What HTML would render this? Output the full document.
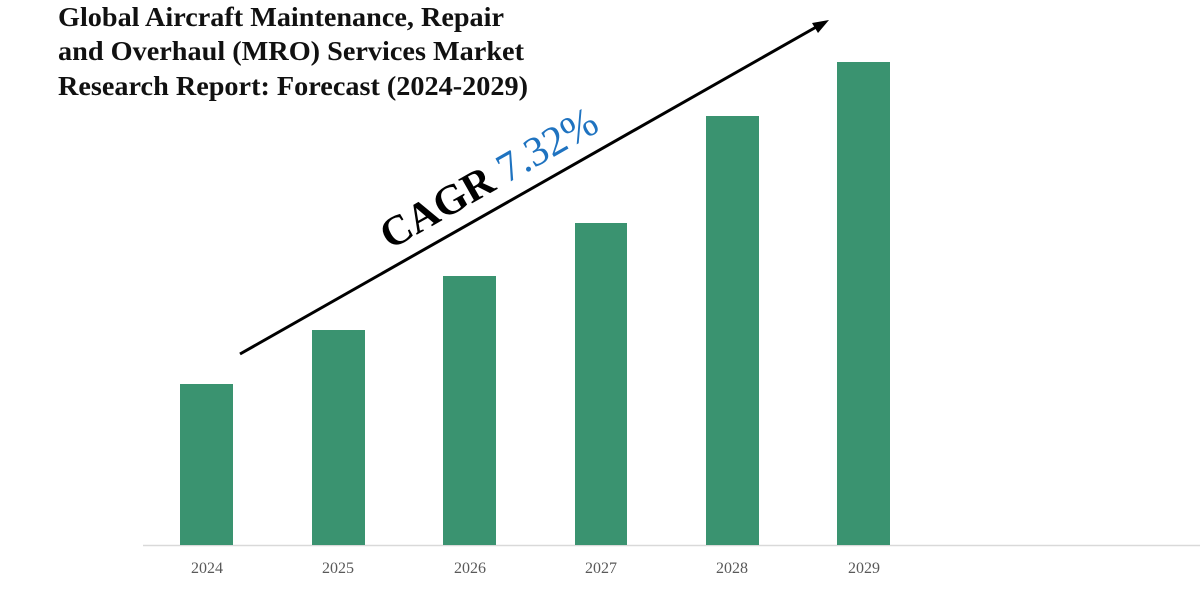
<!DOCTYPE html>
<html><head><style>
html,body{margin:0;padding:0;background:#fff;width:1200px;height:600px;overflow:hidden}
</style></head><body>
<svg width="1200" height="600" xmlns="http://www.w3.org/2000/svg">
<g font-family="Liberation Serif, serif" font-weight="bold" font-size="27.5" fill="#111">
<text x="58" y="26" textLength="446" lengthAdjust="spacingAndGlyphs">Global Aircraft Maintenance, Repair</text>
<text x="58" y="60" textLength="466" lengthAdjust="spacingAndGlyphs">and Overhaul (MRO) Services Market</text>
<text x="58" y="95" textLength="470" lengthAdjust="spacingAndGlyphs">Research Report: Forecast (2024-2029)</text>
</g>
<line x1="143" y1="545.5" x2="1200" y2="545.5" stroke="#d9d9d9" stroke-width="1.5"/>
<g fill="#3a9370">
<rect x="180" y="384" width="53" height="161"/>
<rect x="312" y="330" width="53" height="215"/>
<rect x="443" y="276" width="53" height="269"/>
<rect x="575" y="223" width="52" height="322"/>
<rect x="706" y="116" width="53" height="429"/>
<rect x="837" y="62" width="53" height="483"/>
</g>
<g font-family="Liberation Serif, serif" font-size="16" fill="#595959" text-anchor="middle">
<text x="207" y="573">2024</text>
<text x="338" y="573">2025</text>
<text x="470" y="573">2026</text>
<text x="601" y="573">2027</text>
<text x="732" y="573">2028</text>
<text x="864" y="573">2029</text>
</g>
<line x1="240" y1="354" x2="818" y2="26" stroke="#000" stroke-width="3"/>
<polygon points="829,20 812,23 818,33" fill="#000"/>
<text x="390" y="250" transform="rotate(-29.6 390 250)" font-family="Liberation Serif, serif" font-size="42"><tspan font-weight="bold" fill="#000">CAGR </tspan><tspan fill="#1f73c0">7.32%</tspan></text>
</svg>
</body></html>
